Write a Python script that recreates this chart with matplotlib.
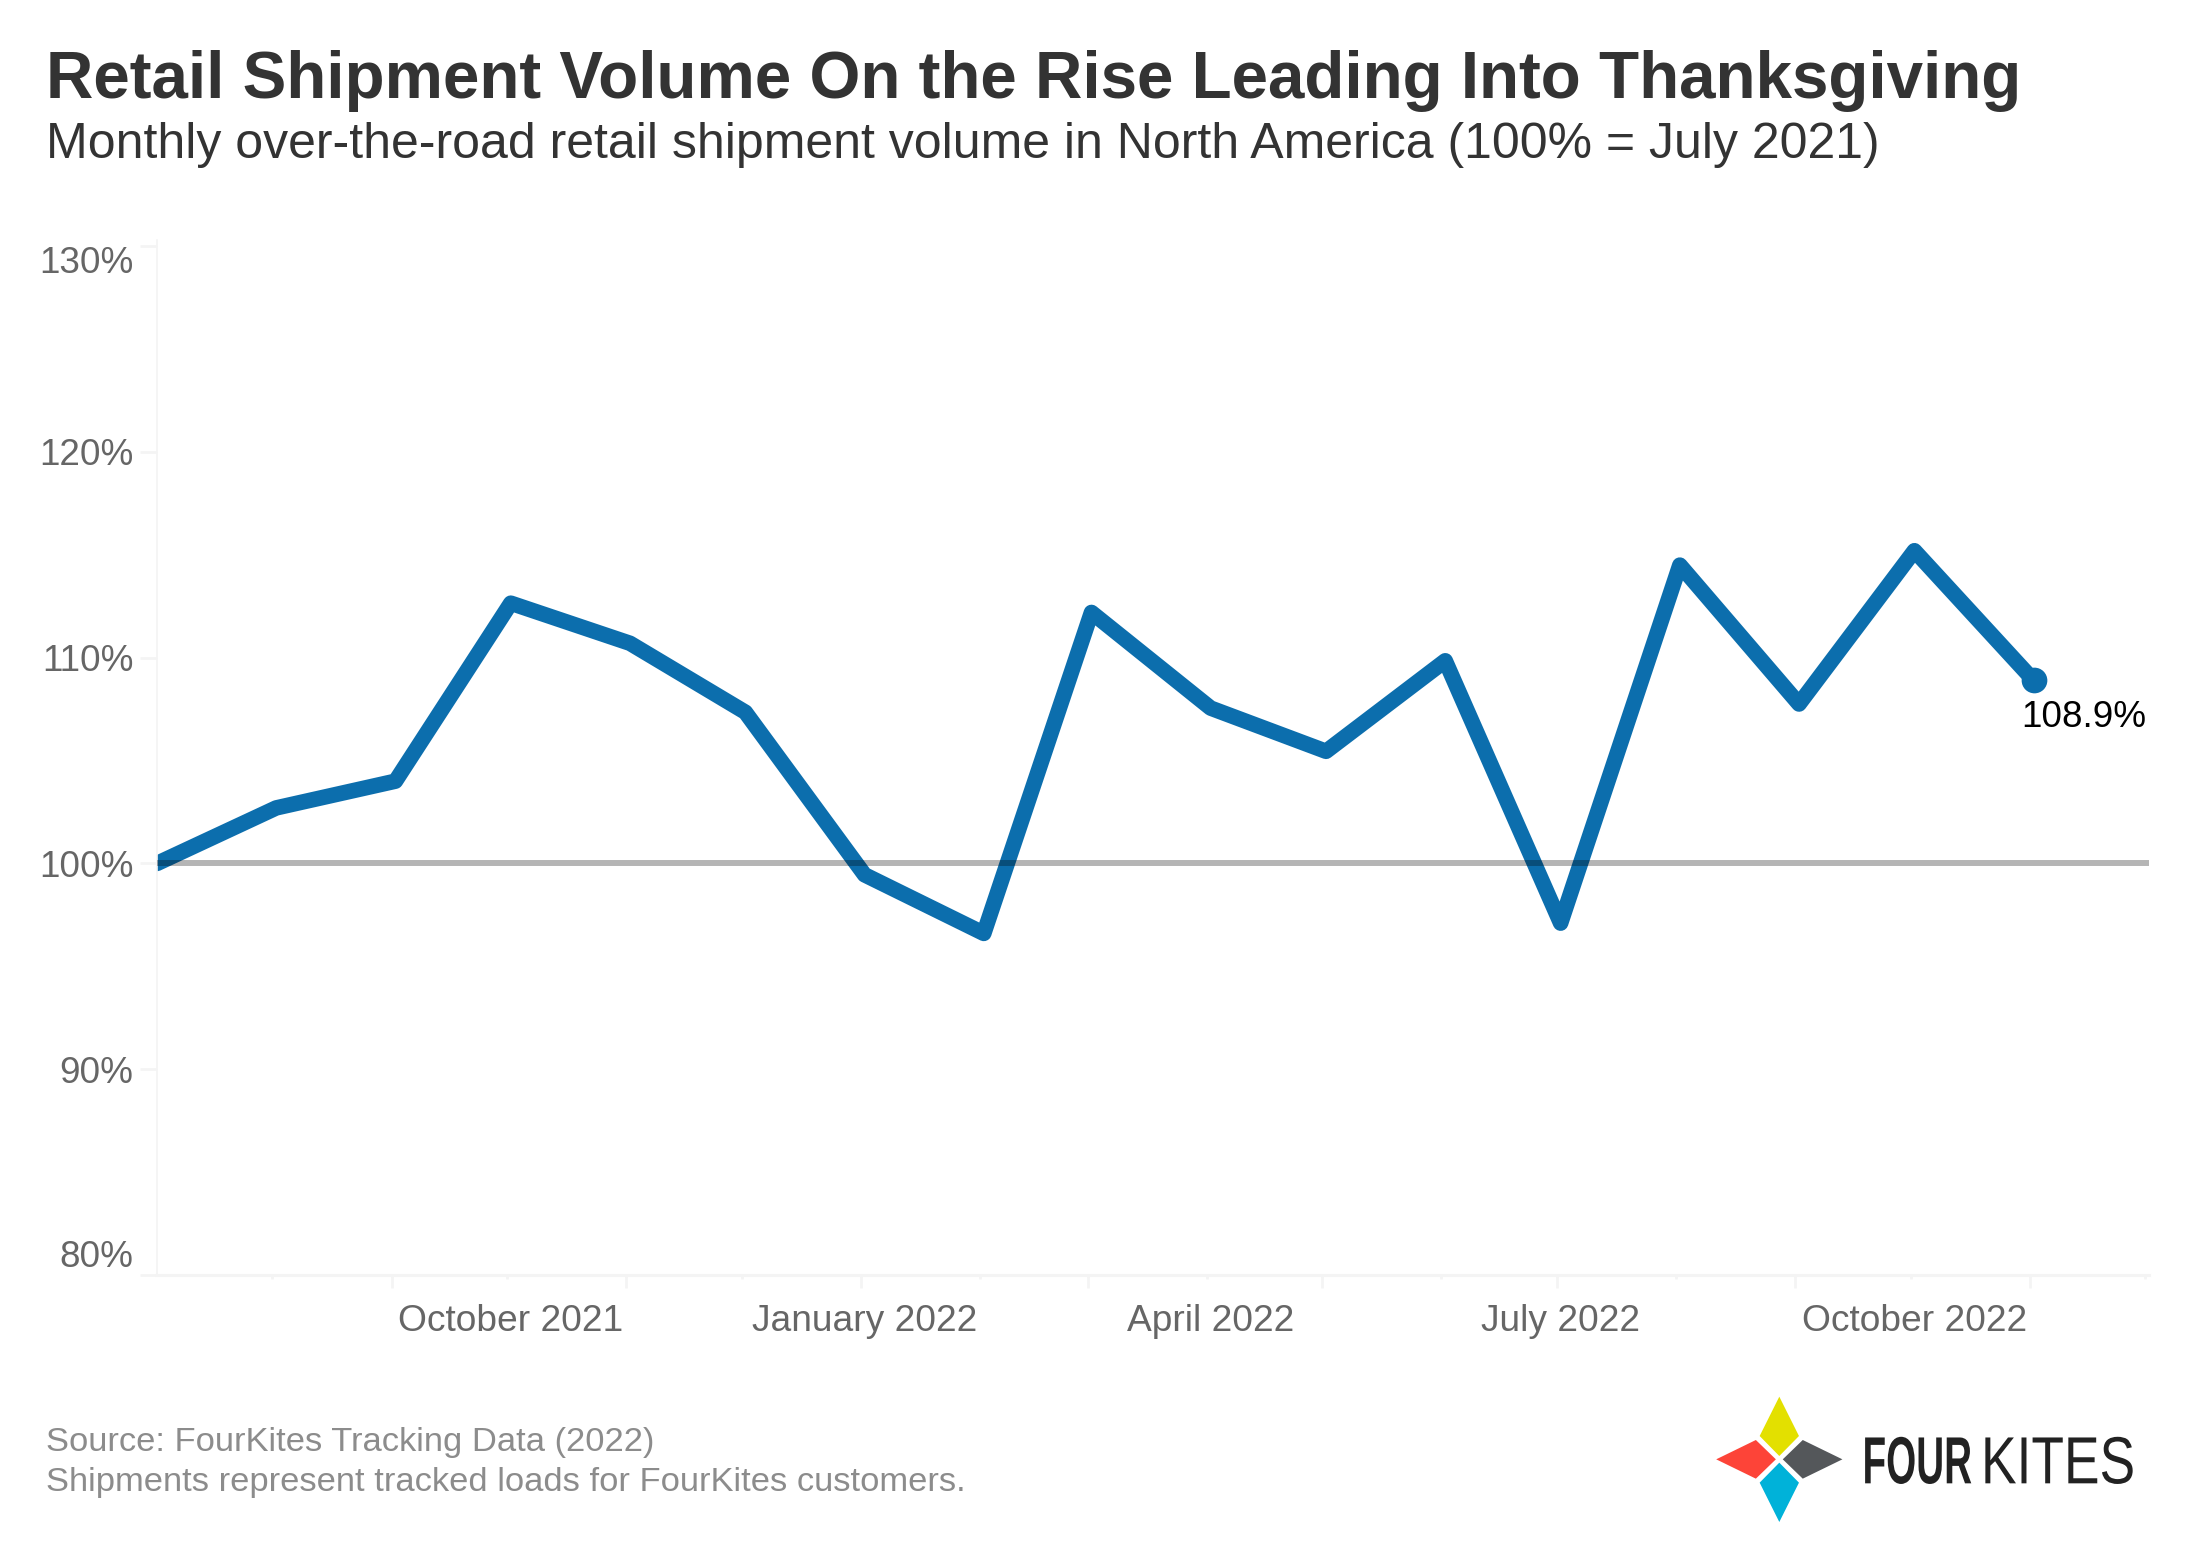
import matplotlib
matplotlib.use("Agg")
import matplotlib.pyplot as plt
import matplotlib.dates as mdates
import pandas as pd
from matplotlib.patches import Polygon
from matplotlib.patheffects import AbstractPathEffect
from matplotlib.transforms import Affine2D

plt.rcParams['font.family'] = ['Liberation Sans', 'DejaVu Sans']

# ---- data ----
months = pd.date_range("2021-07-02", "2022-11-02", freq=pd.DateOffset(months=1))
volume = [100.0, 102.7, 104.0, 112.65, 110.7, 107.35, 99.45, 96.6, 112.2,
          107.55, 105.45, 109.85, 97.1, 114.5, 107.75, 115.2, 108.9]
y_ticks = [80, 90, 100, 110, 120, 130]
label_dates = ["2021-10-02", "2022-01-02", "2022-04-02", "2022-07-02", "2022-10-02"]
label_names = ["October 2021", "January 2022", "April 2022", "July 2022", "October 2022"]
major_dates = ["2021-09-01", "2021-11-01", "2022-01-01", "2022-03-01",
               "2022-05-01", "2022-07-01", "2022-09-01", "2022-11-01"]
minor_dates = ["2021-08-01", "2021-10-01", "2021-12-01", "2022-02-01",
               "2022-04-01", "2022-06-01", "2022-08-01", "2022-10-01", "2022-12-01"]
x_limits = ["2021-07-02", "2022-12-02"]
baseline = 100

W, H = 2191, 1566
BLUE = "#0C6EAD"
AXC = "#F4F4F4"
TICKC = "#666666"

def num(d):
    return mdates.date2num(pd.to_datetime(d))

fig = plt.figure(figsize=(W / 100, H / 100), dpi=100, facecolor="white")
L, R, T, B = 157, 2149, 240, 1275
ax = fig.add_axes([L / W, 1 - B / H, (R - L) / W, (B - T) / H])

ax.plot(num(months), volume, color=BLUE, lw=11.2, solid_joinstyle="round",
        solid_capstyle="round", zorder=2)
ax.plot(num(months)[-1], volume[-1], "o", color=BLUE, ms=18.5, mew=0, zorder=3, clip_on=False)
ax.axhline(baseline, color="black", alpha=0.29, lw=4.3, zorder=4)

ax.set_xlim(num(x_limits[0]), num(x_limits[1]))
ax.set_ylim(80, 130.3)

for s in ("top", "right"):
    ax.spines[s].set_visible(False)
ax.spines["bottom"].set_color(AXC)
ax.spines["bottom"].set_linewidth(2.2)
ax.spines["left"].set_color(AXC)
ax.spines["left"].set_linewidth(1.2)

ax.set_yticks(y_ticks)
ax.set_yticklabels([f"{v}%" for v in y_ticks])
ax.tick_params(axis="y", length=12, width=2, color=AXC, labelcolor=TICKC,
               labelsize=26.6, pad=5)
yl = ax.get_yticklabels()
yl[0].set_va("bottom")
yl[-1].set_va("top")

ax.set_xticks(num(major_dates))
ax.set_xticks(num(minor_dates), minor=True)
ax.tick_params(axis="x", which="major", length=9, width=2, color=AXC, labelbottom=False)
ax.tick_params(axis="x", which="minor", length=3, width=2, color=AXC)

sec = ax.secondary_xaxis("bottom")
sec.set_xticks(num(label_dates), label_names)
sec.tick_params(axis="x", length=0, pad=21, labelsize=26.7, labelcolor=TICKC)
sec.spines["bottom"].set_visible(False)

ax.annotate(f"{volume[-1]}%", xy=(num(months)[-1], volume[-1]), xytext=(36, -27),
            textcoords="offset points", ha="center", va="center", fontsize=26.6,
            color="black", annotation_clip=False)

def px(x, y):
    return x / W, 1 - y / H

fig.text(*px(46, 98), "Retail Shipment Volume On the Rise Leading Into Thanksgiving",
         fontsize=47.2, fontweight="bold", color="#333333", va="baseline")
fig.text(*px(46, 158), "Monthly over-the-road retail shipment volume in North America (100% = July 2021)",
         fontsize=36, color="#333333", va="baseline")
fig.text(*px(46, 1451), "Source: FourKites Tracking Data (2022)", fontsize=24.8, color="#8C8C8C", va="baseline")
fig.text(*px(46, 1491), "Shipments represent tracked loads for FourKites customers.", fontsize=24.8,
         color="#8C8C8C", va="baseline")

# ---- logo ----
class Squeeze(AbstractPathEffect):
    """Narrow the glyphs horizontally around a fixed pixel column."""
    def __init__(self, sx, pivot):
        super().__init__()
        self.sx = sx
        self.pivot = pivot
    def draw_path(self, renderer, gc, tpath, affine, rgbFace=None):
        a = affine + Affine2D().translate(-self.pivot, 0).scale(self.sx, 1).translate(self.pivot, 0)
        renderer.draw_path(gc, tpath, a, rgbFace)

def zp(x, y):
    return px(1650 + x / 2.9, 1370 + y / 3)

logo = {
    "#E3E000": [(375, 80), (432, 198), (375, 258), (318, 198)],
    "#FD4438": [(192, 268), (307, 210), (365, 268), (307, 326)],
    "#54575A": [(558, 268), (443, 210), (385, 268), (443, 326)],
    "#00B2D9": [(375, 456), (432, 338), (375, 278), (318, 338)],
}
for c, pts in logo.items():
    fig.add_artist(Polygon([zp(*p) for p in pts], closed=True, fc=c, ec="none",
                           transform=fig.transFigure))
# FOUR is anchored at its right end so its layout box lies over the mark, not over KITES
four_x, kites_x = 1972, 1981
fig.text(four_x / W, zp(0, 340)[1], "FOUR", fontsize=48, fontweight="bold", color="#222222",
         va="baseline", ha="right", path_effects=[Squeeze(0.58, four_x)])
fig.text(kites_x / W, zp(0, 340)[1], "KITES", fontsize=48, fontweight="normal", color="#222222",
         va="baseline", ha="left", path_effects=[Squeeze(0.80, kites_x)])

fig.savefig("out.png", dpi=100, facecolor="white")
